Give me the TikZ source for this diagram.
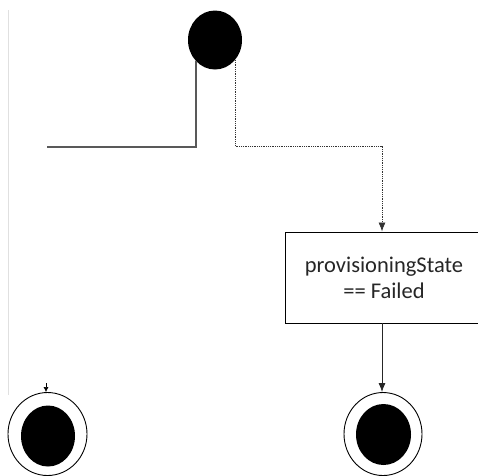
\documentclass[tikz,border=0pt]{standalone}
\usepackage{fontspec}
\setmainfont{Carlito}
\usetikzlibrary{shapes.geometric,arrows.meta}
\begin{document}
\begin{tikzpicture}[x=1pt,y=-1pt,every path/.style={>={Latex[length=9pt,width=7pt]}}]
	\useasboundingbox (0,0) rectangle (478,475);

	% draw faint page edge
	\draw[black!12,line width=1pt] (8,10) -- (8,395);

	% draw start node
	\node (start) at (215,40) [ellipse,fill=black,minimum width=54pt,minimum height=59pt,inner sep=0pt] {};

	% draw condition box (cut at right edge)
	\node (failed) at (384,277.5) [draw,rectangle,line width=0.9pt,minimum width=198pt,minimum height=91pt,align=center,font=\fontsize{22.5}{26}\selectfont,text=black!85] {provisioningState\\== Failed};

	% draw left final node
	\node (endl) at (47.5,434) [ellipse,draw,line width=0.9pt,minimum width=79pt,minimum height=83pt] {};
	\node (endlin) at (48,436) [ellipse,fill=black,minimum width=54pt,minimum height=61pt,inner sep=0pt] {};

	% draw right final node
	\node (endr) at (383,434) [ellipse,draw,line width=0.9pt,minimum width=78pt,minimum height=83pt] {};
	\node (endrin) at (383.5,434.5) [ellipse,fill=black,minimum width=55pt,minimum height=61pt,inner sep=0pt] {};

	% draw corner points of the two branches
	\coordinate (leftend) at (47,147);
	\coordinate (rightturn) at (382,146);

	% draw solid branch to the left
	\draw[black!65,line width=1.2pt] (start.228) |- (leftend);

	% draw dotted branch to the box
	\draw[->,black!80,line width=0.8pt,densely dotted] (start.-45) |- (rightturn) -- (rightturn |- failed.north);

	% draw line from box to right final node
	\draw[->,black!85,line width=0.8pt] (failed.south -| rightturn) -- (endr.north -| rightturn);

	% draw small tip above left final node
	\coordinate (tipl) at (46,383);
	\draw[->,line width=0.6pt,>={Latex[length=5pt,width=5pt]}] (tipl) -- (tipl |- endl.north);
\end{tikzpicture}
\end{document}
